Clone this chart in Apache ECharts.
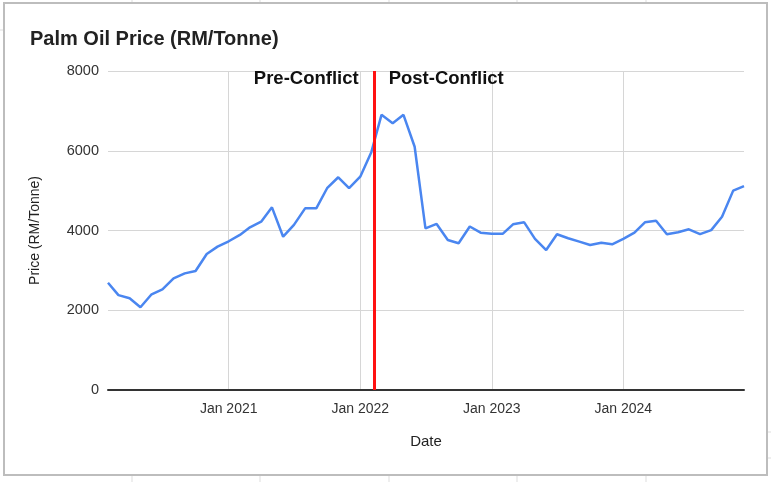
<!DOCTYPE html>
<html>
<head>
<meta charset="utf-8">
<script src="https://cdn.jsdelivr.net/npm/echarts@6/dist/echarts.min.js"></script>
<style>
  html, body { margin: 0; padding: 0; background: #fff; }
  #chart { width: 771px; height: 482px; }
</style>
</head>
<body>
<div id="chart"></div>
<script>
// monthly palm oil price, Feb 2020 - Dec 2024 (RM/tonne)
const months = [
  "2020-02-01", "2020-03-01", "2020-04-01", "2020-05-01", "2020-06-01", "2020-07-01",
  "2020-08-01", "2020-09-01", "2020-10-01", "2020-11-01", "2020-12-01",
  "2021-01-01", "2021-02-01", "2021-03-01", "2021-04-01", "2021-05-01", "2021-06-01",
  "2021-07-01", "2021-08-01", "2021-09-01", "2021-10-01", "2021-11-01", "2021-12-01",
  "2022-01-01", "2022-02-01", "2022-03-01", "2022-04-01", "2022-05-01", "2022-06-01",
  "2022-07-01", "2022-08-01", "2022-09-01", "2022-10-01", "2022-11-01", "2022-12-01",
  "2023-01-01", "2023-02-01", "2023-03-01", "2023-04-01", "2023-05-01", "2023-06-01",
  "2023-07-01", "2023-08-01", "2023-09-01", "2023-10-01", "2023-11-01", "2023-12-01",
  "2024-01-01", "2024-02-01", "2024-03-01", "2024-04-01", "2024-05-01", "2024-06-01",
  "2024-07-01", "2024-08-01", "2024-09-01", "2024-10-01", "2024-11-01", "2024-12-01"
];
const prices = [
  2690, 2380, 2300, 2075, 2400, 2525, 2800, 2925, 2985, 3410, 3595,
  3730, 3890, 4080, 4220, 4580, 3845, 4140, 4555, 4555, 5060, 5335, 5060,
  5350, 5970, 6900, 6690, 6900, 6100, 4055, 4165, 3760, 3680, 4100, 3945,
  3920, 3920, 4155, 4205, 3790, 3510, 3905, 3805, 3720, 3635, 3695, 3655,
  3790, 3945, 4205, 4245, 3905, 3955, 4030, 3910, 4010, 4345, 5000, 5115
];
const conflictDate = "2022-02-10";
const yTicks = [0, 2000, 4000, 6000, 8000];

const font = "Arial, 'Liberation Sans', sans-serif";
const YEAR = 365 * 24 * 3600 * 1000;

const chart = echarts.init(document.getElementById("chart"));
chart.setOption({
  animation: false,
  backgroundColor: "#fff",
  textStyle: { fontFamily: font },
  title: {
    text: "Palm Oil Price (RM/Tonne)",
    left: 25,
    top: 24,
    textStyle: { fontFamily: font, fontSize: 20, fontWeight: "bold", color: "#222" }
  },
  graphic: [
    // spreadsheet cell lines peeking out behind the chart
    { type: "line", shape: { x1: 0, y1: 30, x2: 4, y2: 30 }, style: { stroke: "#ddd", lineWidth: 1 } },
    { type: "line", shape: { x1: 768, y1: 432, x2: 771, y2: 432 }, style: { stroke: "#ddd", lineWidth: 1 } },
    { type: "line", shape: { x1: 768, y1: 458, x2: 771, y2: 458 }, style: { stroke: "#ddd", lineWidth: 1 } },
    ...[132, 260, 389, 517, 646].map(x => ({
      type: "line", shape: { x1: x, y1: 0, x2: x, y2: 3 }, style: { stroke: "#ddd", lineWidth: 1 }
    })),
    ...[132, 260, 389, 517, 646].map(x => ({
      type: "line", shape: { x1: x, y1: 476, x2: x, y2: 482 }, style: { stroke: "#ddd", lineWidth: 1 }
    })),
    {
      type: "rect",
      shape: { x: 4, y: 3, width: 763, height: 472 },
      style: { fill: null, stroke: "#bdbdbd", lineWidth: 2 },
      z: 100
    }
  ],
  grid: { left: 108, right: 27, top: 71, bottom: 92 },
  xAxis: {
    type: "time",
    min: months[0],
    max: months[months.length - 1],
    minInterval: YEAR,
    maxInterval: YEAR,
    name: "Date",
    nameLocation: "middle",
    nameGap: 44,
    nameTextStyle: { fontSize: 15, color: "#222", fontFamily: font },
    axisLine: { lineStyle: { color: "#333", width: 2 } },
    axisTick: { show: false },
    axisLabel: {
      fontSize: 14,
      color: "#333",
      margin: 12,
      showMinLabel: false,
      showMaxLabel: false,
      formatter: v => "Jan " + new Date(v).getFullYear()
    },
    splitLine: {
      show: true,
      showMinLine: false,
      showMaxLine: false,
      lineStyle: { color: "#d6d6d6", width: 1 }
    }
  },
  yAxis: {
    type: "value",
    min: yTicks[0],
    max: yTicks[yTicks.length - 1],
    interval: 2000,
    name: "Price (RM/Tonne)",
    nameLocation: "middle",
    nameGap: 66,
    nameTextStyle: { fontSize: 14, color: "#222", fontFamily: font },
    axisLine: { show: false },
    axisTick: { show: false },
    axisLabel: { fontSize: 14.5, color: "#333", margin: 9, formatter: v => String(v) },
    splitLine: { lineStyle: { color: "#d6d6d6", width: 1 } }
  },
  series: [
    {
      name: "Price",
      type: "line",
      data: months.map((m, i) => [m, prices[i]]),
      showSymbol: false,
      lineStyle: { color: "#4a86f0", width: 2.5 },
      itemStyle: { color: "#4a86f0" },
      z: 3,
      markLine: {
        silent: true,
        symbol: "none",
        z: 4,
        lineStyle: { color: "#ff1111", width: 3, type: "solid" },
        label: {
          position: "end",
          fontSize: 18.5,
          fontWeight: "bold",
          color: "#111",
          fontFamily: font
        },
        data: [
          {
            xAxis: conflictDate,
            label: { formatter: "Pre-Conflict", align: "right", offset: [-16, 22] }
          },
          {
            xAxis: conflictDate,
            label: { formatter: "Post-Conflict", align: "left", offset: [14, 22] }
          }
        ]
      }
    }
  ]
});
</script>
</body>
</html>
